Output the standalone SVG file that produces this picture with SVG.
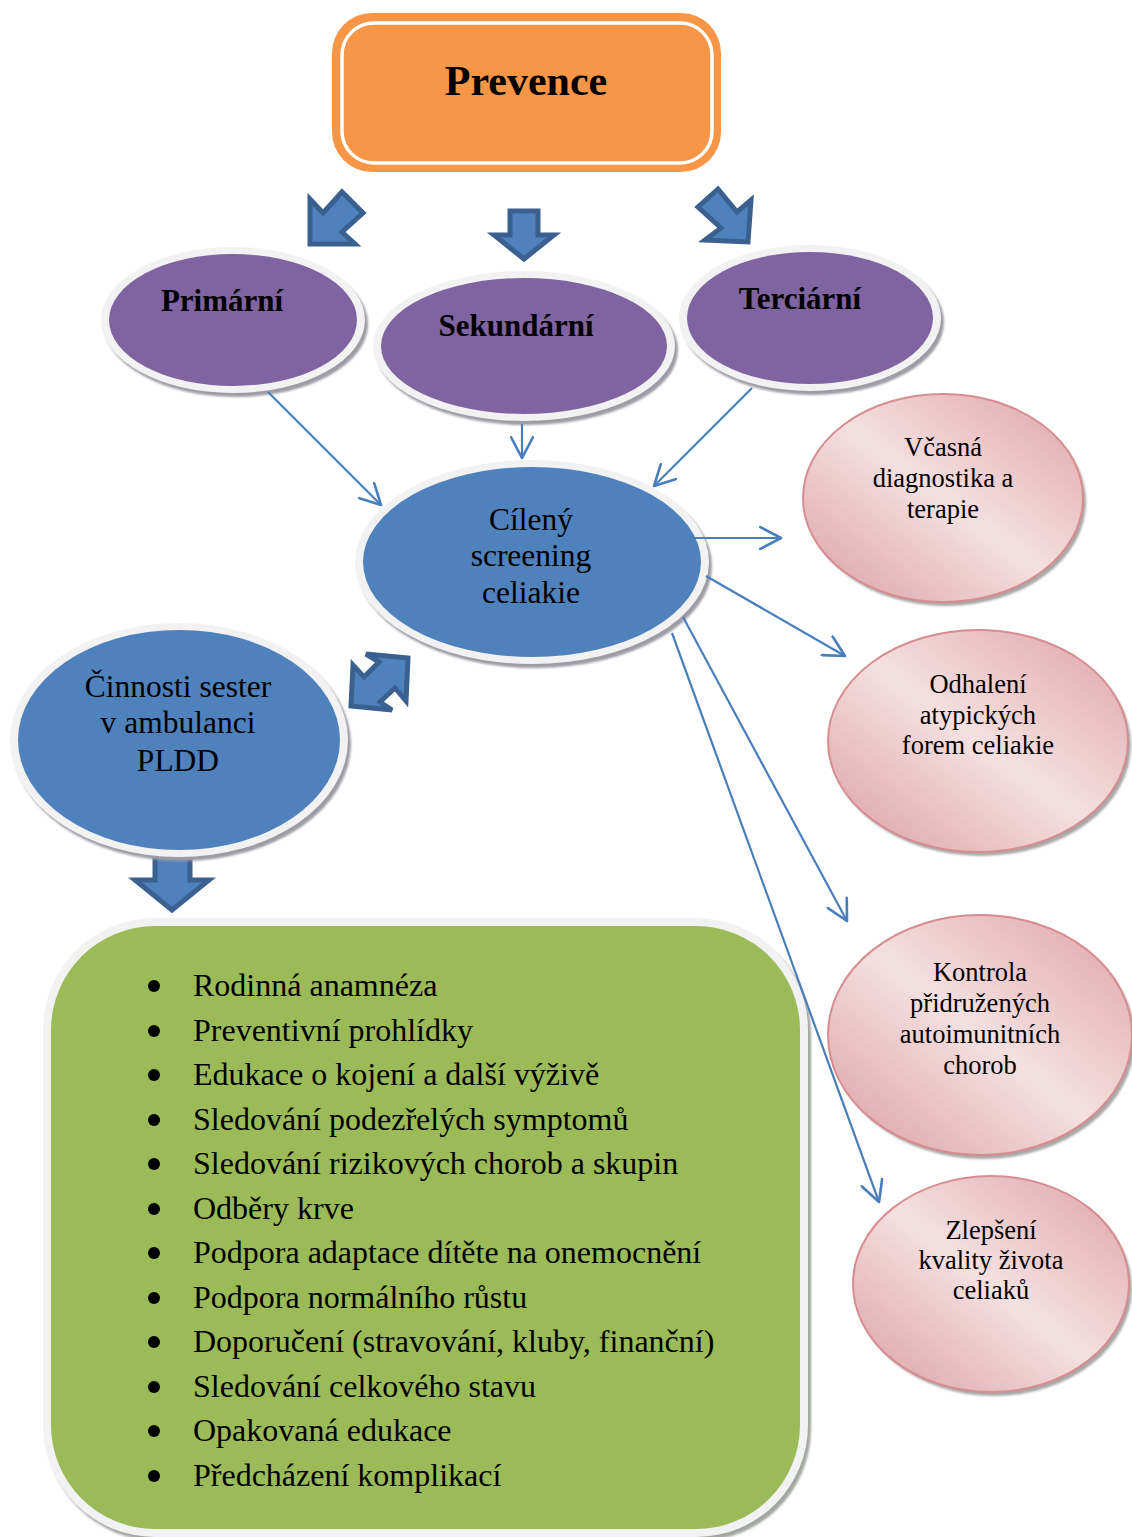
<svg xmlns="http://www.w3.org/2000/svg" width="1132" height="1537" viewBox="0 0 1132 1537">
  <defs>
    <linearGradient id="pinkFill" x1="1" y1="0" x2="0" y2="1">
      <stop offset="0" stop-color="#dfa3a6"/>
      <stop offset="0.5" stop-color="#f4e0e1"/>
      <stop offset="1" stop-color="#db9fa2"/>
    </linearGradient>
    <filter id="soft" x="-10%" y="-10%" width="120%" height="120%">
      <feGaussianBlur stdDeviation="1.2"/>
    </filter>
    <marker id="chev" markerUnits="userSpaceOnUse" markerWidth="24" markerHeight="24" viewBox="0 0 22 22" refX="20" refY="11" orient="auto">
      <path d="M1,1 L20,11 L1,21" fill="none" stroke="#4a7ebb" stroke-width="2.4" stroke-linecap="round" stroke-linejoin="round"/>
    </marker>
    <style>
      .serif { font-family: "Liberation Serif", "Times New Roman", serif; fill: #000; }
      .title { font-size: 42px; font-weight: bold; text-anchor: middle; }
      .level { font-size: 31px; font-weight: bold; text-anchor: middle; }
      .blue { font-size: 31.5px; text-anchor: middle; }
      .pink { font-size: 26.5px; text-anchor: middle; }
      .item { font-size: 32px; }
      .shadow { fill: #9d9ba4; filter: url(#soft); }
      .ring { fill: #f2f2f2; }
      .purple { fill: #8064a2; }
      .bluefill { fill: #4f81bd; }
      .pinkfill { fill: url(#pinkFill); stroke: #d78d90; stroke-width: 2; }
      .pinkshadow { fill: #a9a7a8; filter: url(#soft); }
      .block { fill: #4f81bd; stroke: #3a6090; stroke-width: 5; stroke-linejoin: miter; }
      .conn { stroke: #4a7ebb; stroke-width: 2.2; fill: none; marker-end: url(#chev); }
    </style>
  </defs>

  <!-- title box -->
  <g id="prevence">
    <rect x="332" y="13" width="389" height="159" rx="40" fill="#f79646"/>
    <rect x="342" y="23" width="370" height="140" rx="32" fill="none" stroke="#ffffff" stroke-width="3.5"/>
    <text class="serif title" x="526" y="95">Prevence</text>
  </g>

  <!-- block arrows from the title -->
  <g id="block-arrows">
    <polygon class="block" points="310,244 310,199 323,213 342,192 363,213 342,232 355,244"/>
    <polygon class="block" points="510,211 538,211 538,235 554,235 524,259 494,235 510,235"/>
    <polygon class="block" points="698,207 718,189 737,212 751,200 748,242 705,240 721,228"/>
  </g>

  <!-- prevention levels -->
  <g id="primarni">
    <ellipse class="shadow" cx="236" cy="324" rx="132" ry="73"/>
    <ellipse class="ring" cx="233" cy="320" rx="132" ry="73"/>
    <ellipse class="purple" cx="233" cy="320" rx="124" ry="66"/>
    <text class="serif level" x="222" y="311">Primární</text>
  </g>
  <g id="sekundarni">
    <ellipse class="shadow" cx="527" cy="350" rx="151" ry="75"/>
    <ellipse class="ring" cx="524" cy="346" rx="151" ry="75"/>
    <ellipse class="purple" cx="524" cy="346" rx="143" ry="68"/>
    <text class="serif level" x="516" y="336">Sekundární</text>
  </g>
  <g id="terciarni">
    <ellipse class="shadow" cx="813" cy="322" rx="131" ry="73"/>
    <ellipse class="ring" cx="810" cy="318" rx="131" ry="73"/>
    <ellipse class="purple" cx="810" cy="318" rx="123" ry="66"/>
    <text class="serif level" x="800" y="309">Terciární</text>
  </g>

  <!-- targeted screening -->
  <g id="screening">
    <ellipse class="shadow" cx="535" cy="566" rx="177" ry="102"/>
    <ellipse class="ring" cx="532" cy="562" rx="177" ry="102"/>
    <ellipse class="bluefill" cx="532" cy="562" rx="169" ry="95"/>
    <text class="serif blue" x="531" y="530">Cílený</text>
    <text class="serif blue" x="531" y="566">screening</text>
    <text class="serif blue" x="531" y="603">celiakie</text>
  </g>

  <!-- nurses' activities -->
  <g id="cinnosti">
    <polygon class="block" points="155,852 190,852 190,880 209,880 172,910 135,880 155,880"/>
    <ellipse class="shadow" cx="182" cy="744" rx="169" ry="117"/>
    <ellipse class="ring" cx="179" cy="740" rx="169" ry="117"/>
    <ellipse class="bluefill" cx="179" cy="740" rx="161" ry="110"/>
    <text class="serif blue" x="178" y="697">Činnosti sester</text>
    <text class="serif blue" x="178" y="733">v ambulanci</text>
    <text class="serif blue" x="178" y="771">PLDD</text>
  </g>

  <!-- two-way arrow between screening and nurses -->
  <g id="double-arrow">
    <polygon class="block" points="408,658 406,701 395,688 380,702 392,710 351,706 353,665 364,677 379,662 366,654"/>
  </g>

  <!-- outcomes -->
  <g id="vcasna">
    <ellipse class="pinkshadow" cx="946" cy="502" rx="140" ry="104"/>
    <ellipse class="pinkfill" cx="943" cy="498" rx="140" ry="104"/>
    <text class="serif pink" x="943" y="456">Včasná</text>
    <text class="serif pink" x="943" y="487">diagnostika a</text>
    <text class="serif pink" x="943" y="518">terapie</text>
  </g>
  <g id="odhaleni">
    <ellipse class="pinkshadow" cx="981" cy="745" rx="150" ry="111"/>
    <ellipse class="pinkfill" cx="978" cy="741" rx="150" ry="111"/>
    <text class="serif pink" x="978" y="693">Odhalení</text>
    <text class="serif pink" x="978" y="724">atypických</text>
    <text class="serif pink" x="978" y="754">forem celiakie</text>
  </g>
  <g id="kontrola">
    <ellipse class="pinkshadow" cx="983" cy="1039" rx="152" ry="120"/>
    <ellipse class="pinkfill" cx="980" cy="1035" rx="152" ry="120"/>
    <text class="serif pink" x="980" y="981">Kontrola</text>
    <text class="serif pink" x="980" y="1012">přidružených</text>
    <text class="serif pink" x="980" y="1043">autoimunitních</text>
    <text class="serif pink" x="980" y="1074">chorob</text>
  </g>
  <g id="zlepseni">
    <ellipse class="pinkshadow" cx="994" cy="1288" rx="138" ry="108"/>
    <ellipse class="pinkfill" cx="991" cy="1284" rx="138" ry="108"/>
    <text class="serif pink" x="991" y="1239">Zlepšení</text>
    <text class="serif pink" x="991" y="1269">kvality života</text>
    <text class="serif pink" x="991" y="1299">celiaků</text>
  </g>

  <!-- activity list -->
  <g id="activities">
    <rect x="46" y="922" width="765" height="619" rx="112" fill="#a2a7a0" filter="url(#soft)"/>
    <rect x="43" y="918" width="765" height="619" rx="112" fill="#f2f2f2"/>
    <rect x="51" y="926" width="749" height="603" rx="104" fill="#9bbb59"/>
    <g class="serif item">
      <circle cx="154" cy="986" r="6"/><text x="193" y="996">Rodinná anamnéza</text>
      <circle cx="154" cy="1031" r="6"/><text x="193" y="1041">Preventivní prohlídky</text>
      <circle cx="154" cy="1075" r="6"/><text x="193" y="1085">Edukace o kojení a další výživě</text>
      <circle cx="154" cy="1120" r="6"/><text x="193" y="1130">Sledování podezřelých symptomů</text>
      <circle cx="154" cy="1164" r="6"/><text x="193" y="1174">Sledování rizikových chorob a skupin</text>
      <circle cx="154" cy="1209" r="6"/><text x="193" y="1219">Odběry krve</text>
      <circle cx="154" cy="1253" r="6"/><text x="193" y="1263">Podpora adaptace dítěte na onemocnění</text>
      <circle cx="154" cy="1298" r="6"/><text x="193" y="1308">Podpora normálního růstu</text>
      <circle cx="154" cy="1342" r="6"/><text x="193" y="1352">Doporučení (stravování, kluby, finanční)</text>
      <circle cx="154" cy="1387" r="6"/><text x="193" y="1397">Sledování celkového stavu</text>
      <circle cx="154" cy="1431" r="6"/><text x="193" y="1441">Opakovaná edukace</text>
      <circle cx="154" cy="1476" r="6"/><text x="193" y="1486">Předcházení komplikací</text>
    </g>
  </g>

  <!-- thin connectors -->
  <g id="connectors">
    <line class="conn" x1="268" y1="392" x2="381" y2="505"/>
    <line class="conn" x1="522" y1="424" x2="522" y2="458"/>
    <line class="conn" x1="752" y1="388" x2="654" y2="486"/>
    <line class="conn" x1="694" y1="538" x2="781" y2="538"/>
    <line class="conn" x1="706" y1="576" x2="845" y2="656"/>
    <line class="conn" x1="683" y1="617" x2="847" y2="921"/>
    <line class="conn" x1="672" y1="633" x2="879" y2="1202"/>
  </g>
</svg>
